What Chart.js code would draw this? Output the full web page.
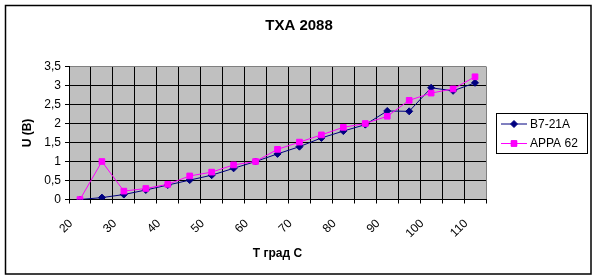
<!DOCTYPE html>
<html>
<head>
<meta charset="utf-8">
<script src="https://cdn.jsdelivr.net/npm/chart.js@4.4.0/dist/chart.umd.min.js"></script>
<style>
    html, body { margin: 0; padding: 0; background: #ffffff; }
    #wrap { width: 598px; height: 280px; }
</style>
</head>
<body>
<div id="wrap"><canvas id="thaChart" width="598" height="280"></canvas></div>
<script>
// temperature categories (every other one is labelled on the axis)
var categories = ['20', '25', '30', '35', '40', '45', '50', '55', '60', '65',
                  '70', '75', '80', '85', '90', '95', '100', '105', '110'];

// voltmeter readings, V
var dataB7 = [0, 0.05, 0.13, 0.25, 0.38, 0.51, 0.64, 0.82, 1.0, 1.2,
              1.39, 1.62, 1.8, 1.97, 2.33, 2.32, 2.94, 2.86, 3.07];
var dataAppa = [0, 1.0, 0.22, 0.29, 0.4, 0.62, 0.72, 0.91, 1.0, 1.32,
                1.51, 1.7, 1.9, 2.0, 2.19, 2.61, 2.8, 2.91, 3.23];

var seriesNames = ['В7-21А', 'APPA 62'];
var yMin = 0, yMax = 3.5, yStep = 0.5;

var FONT = "'Liberation Sans', Arial, sans-serif";

// white page, outer frame and grey plot area
var backgroundPlugin = {
    id: 'backgroundPlugin',
    afterLayout: function (chart) {
        // title is centred on the whole frame, not only on the plot
        if (chart.titleBlock) {
            chart.titleBlock.left = 0;
            chart.titleBlock.right = chart.width;
            chart.titleBlock.width = chart.width;
        }
    },
    beforeDraw: function (chart) {
        var ctx = chart.ctx,
            area = chart.chartArea;
        ctx.save();
        ctx.fillStyle = '#ffffff';
        ctx.fillRect(0, 0, chart.width, chart.height);
        ctx.strokeStyle = '#000000';
        ctx.lineWidth = 1.5;
        ctx.strokeRect(5.5, 5.5, 585.5, 268.5);
        ctx.fillStyle = '#c0c0c0';
        ctx.fillRect(area.left, area.top, area.right - area.left, area.bottom - area.top);
        ctx.restore();
    }
};

// legend in a box, line + marker like Excel
var boxLegendPlugin = {
    id: 'boxLegendPlugin',
    afterDraw: function (chart) {
        var ctx = chart.ctx;
        var boxX = 496.5, boxY = 113.5, boxW = 91, boxH = 40;
        ctx.save();
        ctx.fillStyle = '#ffffff';
        ctx.fillRect(boxX, boxY, boxW, boxH);
        ctx.strokeStyle = '#000000';
        ctx.lineWidth = 1;
        ctx.strokeRect(boxX, boxY, boxW, boxH);

        chart.data.datasets.forEach(function (ds, i) {
            var y = 124 + i * 19.5;
            ctx.strokeStyle = ds.borderColor;
            ctx.lineWidth = 1;
            ctx.beginPath();
            ctx.moveTo(501, y);
            ctx.lineTo(527, y);
            ctx.stroke();
            Chart.helpers.drawPoint(ctx, {
                pointStyle: ds.pointStyle,
                radius: ds.pointRadius,
                borderWidth: 1
            }, 514, y);
            ctx.fillStyle = ds.backgroundColor;
            ctx.fill();
            ctx.fillStyle = '#000000';
            ctx.font = '12px ' + FONT;
            ctx.textBaseline = 'middle';
            ctx.textAlign = 'left';
            ctx.fillText(seriesNames[i], 530, y + 0.5);
        });
        ctx.restore();
    }
};

var thaChart = new Chart(document.getElementById('thaChart').getContext('2d'), {
    type: 'line',
    data: {
        labels: categories,
        datasets: [{
            label: seriesNames[0],
            data: dataB7,
            borderColor: '#000080',
            backgroundColor: '#000080',
            borderWidth: 1,
            pointStyle: 'rectRot',
            pointRadius: 3.5,
            pointBorderWidth: 1,
            tension: 0,
            order: 1
        }, {
            label: seriesNames[1],
            data: dataAppa,
            borderColor: '#ff00ff',
            backgroundColor: '#ff00ff',
            borderWidth: 1,
            pointStyle: 'rect',
            pointRadius: 4,
            pointBorderWidth: 1,
            tension: 0,
            order: 0
        }]
    },
    options: {
        responsive: false,
        animation: false,
        devicePixelRatio: 1,
        layout: {
            padding: { left: 14, right: 112, top: 0, bottom: 0 }
        },
        plugins: {
            legend: { display: false },
            tooltip: { enabled: false },
            title: {
                display: true,
                text: 'ТХА 2088',
                color: '#000000',
                font: { family: FONT, size: 15, weight: 'bold' },
                padding: { top: 17, bottom: 31.5 }
            }
        },
        scales: {
            x: {
                type: 'category',
                offset: true,
                afterFit: function (scale) { scale.height = 80.5; },
                grid: {
                    offset: true,
                    color: function (c) { return c.type === 'tick' ? '#000000' : '#808080'; },
                    tickColor: '#000000',
                    tickLength: 4,
                    lineWidth: 1
                },
                border: { color: '#000000', width: 1 },
                ticks: {
                    autoSkip: false,
                    minRotation: 45,
                    maxRotation: 45,
                    padding: 13,
                    labelOffset: -9,
                    color: '#000000',
                    font: { family: FONT, size: 12 },
                    callback: function (value, index) {
                        return index % 2 === 0 ? categories[index] : '';
                    }
                },
                title: {
                    display: true,
                    text: 'Т град С',
                    color: '#000000',
                    font: { family: FONT, size: 12, weight: 'bold' },
                    padding: { top: 0, bottom: 19 }
                }
            },
            y: {
                min: yMin,
                max: yMax,
                afterFit: function (scale) { scale.width = 55; },
                grid: {
                    color: function (c) { return c.tick && c.tick.value === yMax ? '#808080' : '#000000'; },
                    tickColor: '#000000',
                    tickLength: 4,
                    lineWidth: 1
                },
                border: { color: '#000000', width: 1 },
                ticks: {
                    stepSize: yStep,
                    padding: 4,
                    color: '#000000',
                    font: { family: FONT, size: 12 },
                    callback: function (value) {
                        return String(value).replace('.', ',');
                    }
                },
                title: {
                    display: true,
                    text: 'U (В)',
                    color: '#000000',
                    font: { family: FONT, size: 12, weight: 'bold' },
                    padding: { top: 6, bottom: 0 }
                }
            }
        }
    },
    plugins: [backgroundPlugin, boxLegendPlugin]
});
</script>
</body>
</html>
